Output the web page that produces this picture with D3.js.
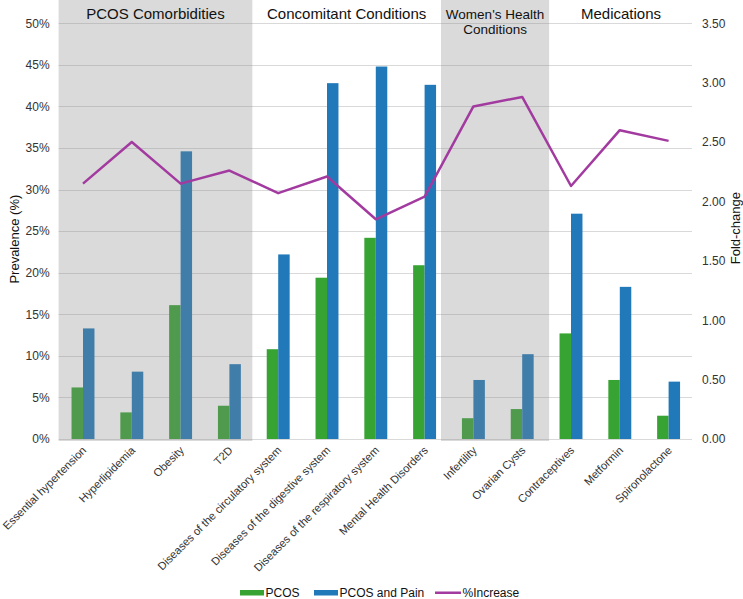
<!DOCTYPE html>
<html>
<head>
<meta charset="utf-8">
<script src="https://cdn.jsdelivr.net/npm/d3@7/dist/d3.min.js"></script>
<style>
  body { margin: 0; background: #fff; }
  svg { font-family: "Liberation Sans", Arial, sans-serif; }
</style>
</head>
<body>
<div id="chart-area"></div>
<script>
// data
var categories = ['Essential hypertension', 'Hyperlipidemia', 'Obesity', 'T2D',
  'Diseases of the circulatory system', 'Diseases of the digestive system',
  'Diseases of the respiratory system', 'Mental Health Disorders',
  'Infertility', 'Ovarian Cysts', 'Contraceptives', 'Metformin', 'Spironolactone'];
var pcos = [6.2, 3.2, 16.1, 4.0, 10.8, 19.4, 24.2, 20.9, 2.5, 3.6, 12.7, 7.1, 2.8];
var pcosPain = [13.3, 8.1, 34.6, 9.0, 22.2, 42.8, 44.8, 42.6, 7.1, 10.2, 27.1, 18.3, 6.9];
var foldChange = [2.15, 2.50, 2.15, 2.26, 2.07, 2.21, 1.85, 2.04, 2.80, 2.88, 2.13, 2.60, 2.51];
var sectionTitles = ['PCOS Comorbidities', 'Concomitant Conditions', "Women's Health|Conditions", 'Medications'];
var sectionSizes = [4, 4, 2, 3];
var sectionShaded = [true, false, true, false];
var leftTicks = [0, 5, 10, 15, 20, 25, 30, 35, 40, 45, 50];
var rightTicks = [0, 0.5, 1, 1.5, 2, 2.5, 3, 3.5];
var seriesNames = ['PCOS', 'PCOS and Pain', '%Increase'];

var colors = { pcos: '#36a332', pain: '#2179b9', line: '#a23aa0' };

var W = 743, H = 599;
var plot = { left: 58.6, right: 693, top: 23.3, bottom: 439 };

var svg = d3.select('#chart-area')
  .append('svg')
  .attr('width', W)
  .attr('height', H);

var x = d3.scaleBand()
  .domain(categories)
  .range([plot.left, plot.right])
  .paddingInner(0.53)
  .paddingOuter(0.265);

var xSub = d3.scaleBand()
  .domain(['pcos', 'pain'])
  .range([0, x.bandwidth()]);

var y = d3.scaleLinear().domain([0, 50]).range([plot.bottom, plot.top]);
var y2 = d3.scaleLinear().domain([0, 3.5]).range([plot.bottom, plot.top]);

// gridlines
svg.append('g')
  .selectAll('line')
  .data(leftTicks)
  .enter()
  .append('line')
    .attr('x1', plot.left)
    .attr('x2', plot.right - 1)
    .attr('y1', function(d) { return Math.round(y(d)) + 0.5; })
    .attr('y2', function(d) { return Math.round(y(d)) + 0.5; })
    .attr('stroke', '#d9d9d9')
    .attr('stroke-width', 1);

// bars
var rows = categories.map(function(c, i) {
  return { cat: c, pcos: pcos[i], pain: pcosPain[i], fold: foldChange[i] };
});

var groups = svg.append('g')
  .selectAll('g')
  .data(rows)
  .enter()
  .append('g')
    .attr('transform', function(d) { return 'translate(' + x(d.cat) + ',0)'; });

groups.selectAll('rect')
  .data(function(d) {
    return [{ key: 'pcos', v: d.pcos }, { key: 'pain', v: d.pain }];
  })
  .enter()
  .append('rect')
    .attr('x', function(d) { return xSub(d.key); })
    .attr('width', xSub.bandwidth())
    .attr('y', function(d) { return y(d.v); })
    .attr('height', function(d) { return plot.bottom - y(d.v); })
    .attr('fill', function(d) { return colors[d.key]; });

// section shading (drawn over bars, semi transparent)
var step = x.step();
var startIdx = 0;
var sections = sectionTitles.map(function(t, i) {
  var s = { title: t, shaded: sectionShaded[i], x0: plot.left + startIdx * step, x1: plot.left + (startIdx + sectionSizes[i]) * step };
  startIdx += sectionSizes[i];
  return s;
});
// small tweaks so the boxes sit as in the original
sections[0].x1 -= 1.5;
sections[2].x0 -= 8;
sections[2].x1 += 2.5;
sections[1].x0 = sections[0].x1;
sections[1].x1 = sections[2].x0;
sections[3].x0 = sections[2].x1;

svg.append('g')
  .selectAll('rect')
  .data(sections.filter(function(s) { return s.shaded; }))
  .enter()
  .append('rect')
    .attr('x', function(s) { return s.x0; })
    .attr('width', function(s) { return s.x1 - s.x0; })
    .attr('y', 0)
    .attr('height', plot.bottom + 2)
    .attr('fill', 'rgb(134,134,134)')
    .attr('fill-opacity', 0.31);

// section titles
var titles = svg.append('g')
  .selectAll('text')
  .data(sections)
  .enter()
  .append('text')
    .attr('text-anchor', 'middle')
    .attr('fill', '#111')
    .attr('font-size', function(s) { return s.title.indexOf('|') > -1 ? '13.5px' : '15px'; })
    .attr('x', function(s) { return (s.x0 + s.x1) / 2; })
    .attr('y', 19);

titles.selectAll('tspan')
  .data(function(s) { return s.title.split('|'); })
  .enter()
  .append('tspan')
    .attr('x', function() { var s = d3.select(this.parentNode).datum(); return (s.x0 + s.x1) / 2; })
    .attr('dy', function(d, i) { return i === 0 ? 0 : 15; })
    .text(function(d) { return d; });

// fold-change line
var line = d3.line()
  .x(function(d) { return x(d.cat) + x.bandwidth() / 2; })
  .y(function(d) { return y2(d.fold); });

svg.append('path')
  .datum(rows)
  .attr('d', line)
  .attr('fill', 'none')
  .attr('stroke', colors.line)
  .attr('stroke-width', 2.5)
  .attr('stroke-linejoin', 'round');

// Y Axis (left)
var yAxis = svg.append('g')
  .attr('transform', 'translate(' + plot.left + ',0)')
  .call(d3.axisLeft(y).tickValues(leftTicks).tickSize(0).tickPadding(9)
    .tickFormat(function(d) { return d + '%'; }));
yAxis.select('.domain').remove();
yAxis.selectAll('text').attr('font-size', '12px').attr('fill', '#333');
yAxis.attr('font-family', null);

// Y Axis (right)
var y2Axis = svg.append('g')
  .attr('transform', 'translate(' + plot.right + ',0)')
  .call(d3.axisRight(y2).tickValues(rightTicks).tickSize(0).tickPadding(9)
    .tickFormat(d3.format('.2f')));
y2Axis.select('.domain').remove();
y2Axis.selectAll('text').attr('font-size', '12px').attr('fill', '#333');
y2Axis.attr('font-family', null);

// X labels
svg.append('g')
  .selectAll('text')
  .data(categories)
  .enter()
  .append('text')
    .attr('text-anchor', 'end')
    .attr('font-size', '11.2px')
    .attr('fill', '#333')
    .attr('transform', function(d) {
      return 'translate(' + (x(d) + x.bandwidth() / 2 + 4) + ',' + (plot.bottom + 12) + ') rotate(-45)';
    })
    .text(function(d) { return d; });

// axis labels
svg.append('text')
  .attr('transform', 'translate(19,' + ((plot.top + plot.bottom) / 2 + 8) + ') rotate(-90)')
  .attr('text-anchor', 'middle')
  .attr('font-size', '13px')
  .attr('fill', '#111')
  .text('Prevalence (%)');

svg.append('text')
  .attr('transform', 'translate(740,' + ((plot.top + plot.bottom) / 2 - 3) + ') rotate(-90)')
  .attr('text-anchor', 'middle')
  .attr('font-size', '13px')
  .attr('fill', '#111')
  .text('Fold-change');

// legend
var legend = svg.append('g').attr('transform', 'translate(240,593)');
var legendX = [0, 74, 195];
var legendColors = [colors.pcos, colors.pain, colors.line];
seriesNames.forEach(function(name, i) {
  var lg = legend.append('g').attr('transform', 'translate(' + legendX[i] + ',0)');
  lg.append('rect')
    .attr('x', 0)
    .attr('y', i === 2 ? -1.5 : -3)
    .attr('width', i === 2 ? 26 : 24)
    .attr('height', i === 2 ? 2.5 : 5.5)
    .attr('fill', legendColors[i]);
  lg.append('text')
    .attr('x', i === 2 ? 27.5 : 25.5)
    .attr('y', 4.3)
    .attr('font-size', '12px')
    .attr('fill', '#111')
    .text(name);
});
</script>
</body>
</html>
